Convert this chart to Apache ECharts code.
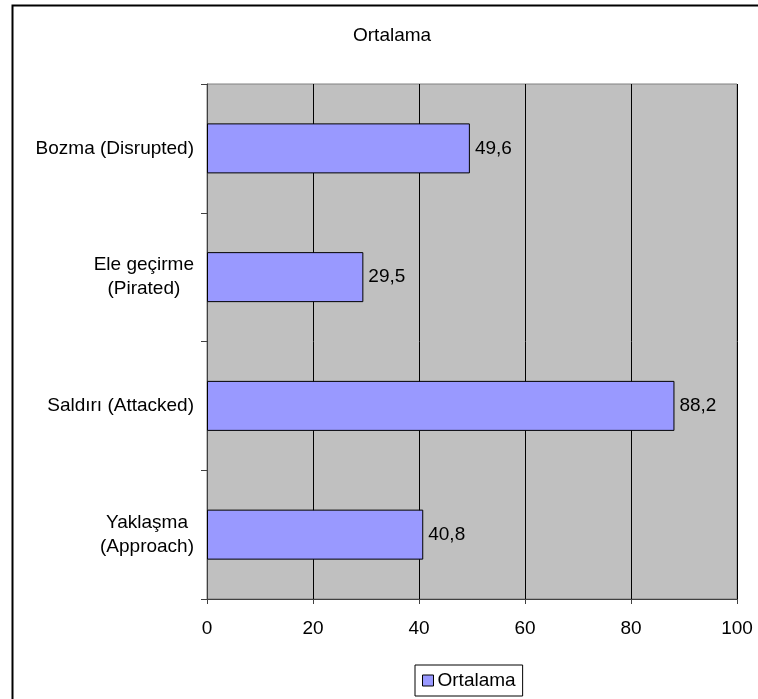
<!DOCTYPE html>
<html>
<head>
    <meta charset="utf-8" />
    <script src="https://cdn.jsdelivr.net/npm/echarts@6/dist/echarts.min.js"></script>
    <style>
        html, body { margin: 0; padding: 0; background: #fff; }
        #chart { width: 758px; height: 699px; }
    </style>
</head>
<body>
    <div id="chart"></div>
    <script>
    // data
    let categories = ['Bozma (Disrupted)', 'Ele geçirme\n(Pirated)', 'Saldırı (Attacked)', 'Yaklaşma\n(Approach)'];
    let values = [49.6, 29.5, 88.2, 40.8];
    let seriesName = 'Ortalama';
    let xTicks = [0, 20, 40, 60, 80, 100];

    let font = 'Arial, "Liberation Sans", sans-serif';
    let fs = 19;

    let chart = echarts.init(document.getElementById('chart'));
    chart.setOption({
        animation: false,
        backgroundColor: '#fff',
        textStyle: { fontFamily: font },
        graphic: [{
            type: 'rect',
            shape: { x: 12.5, y: 5.5, width: 760, height: 710 },
            style: { fill: 'none', stroke: '#000', lineWidth: 2 },
            silent: true
        }],
        title: {
            text: 'Ortalama',
            left: 353,
            top: 26,
            padding: 0,
            textStyle: { fontSize: fs, fontWeight: 'normal', color: '#000', fontFamily: font }
        },
        legend: {
            data: [seriesName],
            bottom: 3,
            left: 415,
            padding: [6, 7, 6, 7],
            borderColor: '#000',
            borderWidth: 1,
            icon: 'rect',
            itemWidth: 11,
            itemHeight: 11,
            itemGap: 5,
            itemStyle: { borderColor: '#000', borderWidth: 1 },
            textStyle: { fontSize: fs, color: '#000', fontFamily: font, padding: [0, 0, 0, -1] }
        },
        grid: {
            left: 207,
            right: 21,
            top: 84,
            bottom: 100,
            show: true,
            backgroundColor: '#C0C0C0',
            borderColor: '#808080',
            borderWidth: 1
        },
        xAxis: {
            type: 'value',
            min: xTicks[0],
            max: xTicks[xTicks.length - 1],
            interval: 20,
            axisLine: { show: true, lineStyle: { color: '#404040', width: 1 } },
            axisTick: { show: true, length: 5, lineStyle: { color: '#404040' } },
            axisLabel: { fontSize: fs, color: '#000', margin: 20, fontFamily: font },
            splitLine: { show: true, lineStyle: { color: '#000', width: 1 } }
        },
        yAxis: {
            type: 'category',
            data: categories,
            inverse: true,
            axisLine: { show: true, lineStyle: { color: '#404040', width: 1 } },
            axisTick: { show: true, length: 6, lineStyle: { color: '#404040' } },
            axisLabel: {
                margin: 13,
                align: 'right',
                formatter: function (v) {
                    return v.split('\n').map(function (s) { return '{a|' + s + '}'; }).join('\n');
                },
                rich: {
                    a: { fontSize: fs, color: '#000', align: 'center', lineHeight: 24, fontFamily: font }
                }
            },
            splitLine: { show: false }
        },
        series: [{
            name: seriesName,
            type: 'bar',
            data: values,
            barWidth: 50,
            itemStyle: { color: '#9999FF', borderColor: '#000', borderWidth: 1 },
            label: {
                show: true,
                position: 'right',
                distance: 5,
                fontSize: fs,
                color: '#000',
                fontFamily: font,
                formatter: function (p) { return String(p.value).replace('.', ','); }
            }
        }]
    });
    </script>
</body>
</html>
